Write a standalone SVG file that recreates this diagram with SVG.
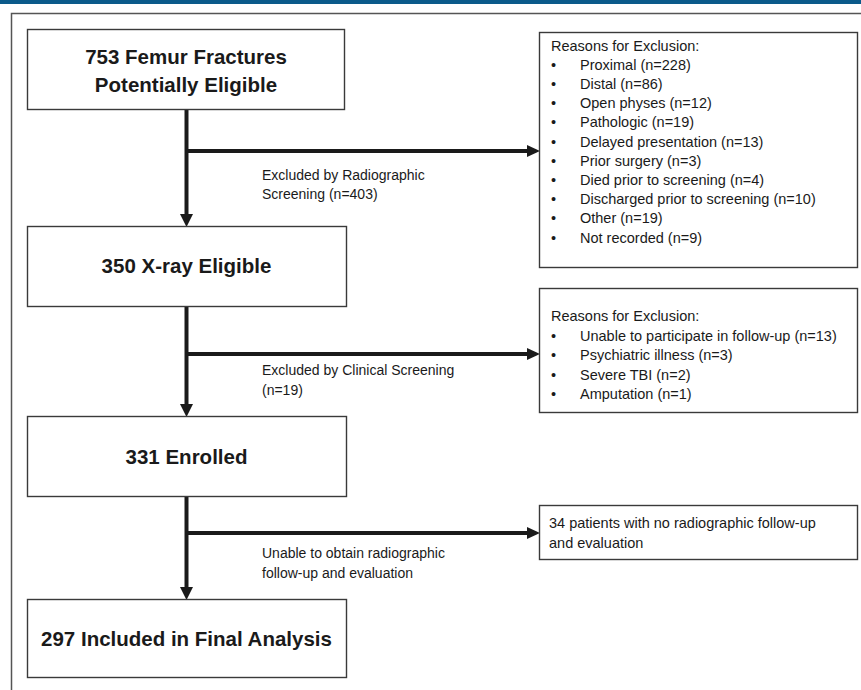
<svg xmlns="http://www.w3.org/2000/svg" width="861" height="690" viewBox="0 0 861 690">
<style>
.box{fill:#fff;stroke:#3a3a3a;stroke-width:1.4}
.title{font-family:"Liberation Sans",Arial,sans-serif;font-weight:bold;font-size:20.5px;fill:#1a1a1a;text-anchor:middle}
.txt{font-family:"Liberation Sans",Arial,sans-serif;font-size:14.5px;fill:#1a1a1a}
.lbl{font-family:"Liberation Sans",Arial,sans-serif;font-size:14px;fill:#1a1a1a}
.line{stroke:#1a1a1a;stroke-width:4;fill:none}
.head{fill:#1a1a1a}
</style>
<rect x="0" y="0" width="861" height="4" fill="#0b5a8a"/>
<rect x="11.5" y="13.5" width="900" height="700" fill="none" stroke="#555" stroke-width="1.5"/>

<g id="connectors">
  <line class="line" x1="186.5" y1="109" x2="186.5" y2="215"/>
  <polygon class="head" points="180,214 193,214 186.5,227"/>
  <line class="line" x1="186.5" y1="151" x2="528" y2="151"/>
  <polygon class="head" points="527,145 527,157 540,151"/>
  <text class="lbl" x="262" y="180">Excluded by Radiographic</text>
  <text class="lbl" x="262" y="199">Screening (n=403)</text>

  <line class="line" x1="186.5" y1="307" x2="186.5" y2="405"/>
  <polygon class="head" points="180,404 193,404 186.5,417"/>
  <line class="line" x1="186.5" y1="354" x2="528" y2="354"/>
  <polygon class="head" points="527,348 527,360 540,354"/>
  <text class="lbl" x="262" y="375">Excluded by Clinical Screening</text>
  <text class="lbl" x="262" y="395">(n=19)</text>

  <line class="line" x1="186.5" y1="496" x2="186.5" y2="588"/>
  <polygon class="head" points="180,587 193,587 186.5,600"/>
  <line class="line" x1="186.5" y1="533" x2="528" y2="533"/>
  <polygon class="head" points="527,527 527,539 540,533"/>
  <text class="lbl" x="262" y="558">Unable to obtain radiographic</text>
  <text class="lbl" x="262" y="578">follow-up and evaluation</text>
</g>

<g id="n1">
  <rect class="box" x="27.5" y="29.5" width="317" height="80"/>
  <text class="title" x="186" y="64">753 Femur Fractures</text>
  <text class="title" x="186" y="92">Potentially Eligible</text>
</g>
<g id="n2">
  <rect class="box" x="27.5" y="226.5" width="319" height="80"/>
  <text class="title" x="186.5" y="273">350 X-ray Eligible</text>
</g>
<g id="n3">
  <rect class="box" x="27.5" y="416.5" width="319" height="80"/>
  <text class="title" x="186.5" y="464">331 Enrolled</text>
</g>
<g id="n4">
  <rect class="box" x="27.5" y="599.5" width="319" height="78"/>
  <text class="title" x="186.5" y="646">297 Included in Final Analysis</text>
</g>

<g id="r1">
  <rect class="box" x="539.5" y="32.5" width="318" height="235"/>
  <text class="txt" x="551" y="50.5">Reasons for Exclusion:</text>
  <g class="txt">
    <text x="551" y="69.7">•</text><text x="580" y="69.7">Proximal (n=228)</text>
    <text x="551" y="88.9">•</text><text x="580" y="88.9">Distal (n=86)</text>
    <text x="551" y="108.1">•</text><text x="580" y="108.1">Open physes (n=12)</text>
    <text x="551" y="127.3">•</text><text x="580" y="127.3">Pathologic (n=19)</text>
    <text x="551" y="146.5">•</text><text x="580" y="146.5">Delayed presentation (n=13)</text>
    <text x="551" y="165.7">•</text><text x="580" y="165.7">Prior surgery (n=3)</text>
    <text x="551" y="184.9">•</text><text x="580" y="184.9">Died prior to screening (n=4)</text>
    <text x="551" y="204.1">•</text><text x="580" y="204.1">Discharged prior to screening (n=10)</text>
    <text x="551" y="223.3">•</text><text x="580" y="223.3">Other (n=19)</text>
    <text x="551" y="242.5">•</text><text x="580" y="242.5">Not recorded (n=9)</text>
  </g>
</g>
<g id="r2">
  <rect class="box" x="539.5" y="288.5" width="318" height="124"/>
  <text class="txt" x="551" y="321">Reasons for Exclusion:</text>
  <g class="txt">
    <text x="551" y="340.5">•</text><text x="580" y="340.5">Unable to participate in follow-up (n=13)</text>
    <text x="551" y="360">•</text><text x="580" y="360">Psychiatric illness (n=3)</text>
    <text x="551" y="379.5">•</text><text x="580" y="379.5">Severe TBI (n=2)</text>
    <text x="551" y="399">•</text><text x="580" y="399">Amputation (n=1)</text>
  </g>
</g>
<g id="r3">
  <rect class="box" x="539.5" y="505.5" width="318" height="54"/>
  <text class="txt" x="549" y="528">34 patients with no radiographic follow-up</text>
  <text class="txt" x="549" y="548">and evaluation</text>
</g>
</svg>
